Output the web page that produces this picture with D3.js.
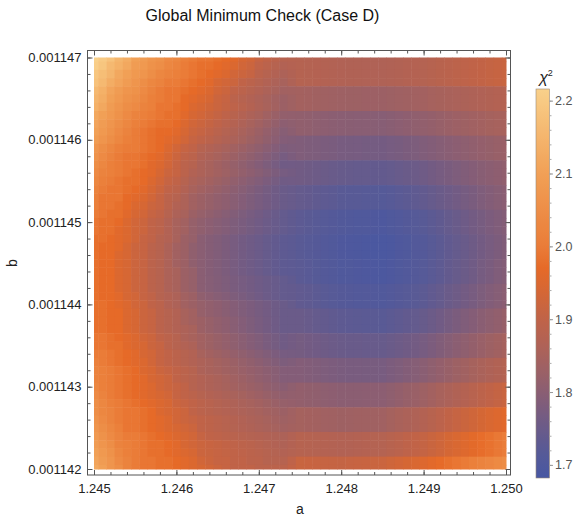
<!DOCTYPE html>
<html>
<head>
<meta charset="utf-8">
<script src="https://cdn.jsdelivr.net/npm/d3@7"></script>
<style>
  body { margin: 0; background: #fff; }
  text { font-family: "Liberation Sans", Arial, sans-serif; }
</style>
</head>
<body>
<div id="container"></div>
<script>
	// grid of a (columns, left to right) and b (rows, top to bottom)
	var aValues = [1.245,1.2451,1.2452,1.2453,1.2454,1.2455,1.2456,1.2457,1.2458,1.2459,
		1.246,1.2461,1.2462,1.2463,1.2464,1.2465,1.2466,1.2467,1.2468,1.2469,
		1.247,1.2471,1.2472,1.2473,1.2474,1.2475,1.2476,1.2477,1.2478,1.2479,
		1.248,1.2481,1.2482,1.2483,1.2484,1.2485,1.2486,1.2487,1.2488,1.2489,
		1.249,1.2491,1.2492,1.2493,1.2494,1.2495,1.2496,1.2497,1.2498,1.2499,1.25];
	var bValues = [0.001147,0.0011469,0.0011468,0.0011467,0.0011466,0.0011465,0.0011464,0.0011463,0.0011462,0.0011461,
		0.001146,0.0011459,0.0011458,0.0011457,0.0011456,0.0011455,0.0011454,0.0011453,0.0011452,0.0011451,
		0.001145,0.0011449,0.0011448,0.0011447,0.0011446,0.0011445,0.0011444,0.0011443,0.0011442,0.0011441,
		0.001144,0.0011439,0.0011438,0.0011437,0.0011436,0.0011435,0.0011434,0.0011433,0.0011432,0.0011431,
		0.001143,0.0011429,0.0011428,0.0011427,0.0011426,0.0011425,0.0011424,0.0011423,0.0011422,0.0011421,0.001142];

	// chi^2 values, one row per b value, one column per a value
	var chi2 = [
[2.22,2.20,2.18,2.15,2.13,2.10,2.09,2.07,2.06,2.04,2.03,2.01,2.00,1.99,1.99,1.98,1.97,1.96,1.94,1.93,1.91,1.90,1.89,1.88,1.879,1.878,1.876,1.874,1.872,1.87,1.868,1.867,1.867,1.866,1.866,1.865,1.867,1.869,1.872,1.874,1.876,1.88,1.884,1.888,1.892,1.895,1.90,1.904,1.907,1.911,1.915],
[2.21,2.19,2.16,2.14,2.12,2.09,2.08,2.06,2.05,2.03,2.02,2.00,1.99,1.98,1.98,1.97,1.96,1.95,1.93,1.92,1.90,1.89,1.88,1.87,1.874,1.878,1.876,1.874,1.872,1.87,1.868,1.867,1.867,1.866,1.866,1.865,1.867,1.869,1.872,1.874,1.876,1.88,1.884,1.888,1.892,1.895,1.90,1.904,1.907,1.911,1.915],
[2.19,2.17,2.15,2.12,2.10,2.08,2.07,2.05,2.03,2.02,2.01,2.00,1.99,1.98,1.97,1.96,1.95,1.93,1.92,1.91,1.89,1.88,1.87,1.86,1.869,1.878,1.876,1.874,1.872,1.87,1.868,1.867,1.867,1.866,1.866,1.865,1.867,1.869,1.872,1.874,1.876,1.88,1.884,1.888,1.892,1.895,1.90,1.904,1.907,1.911,1.915],
[2.18,2.16,2.13,2.11,2.09,2.07,2.05,2.03,2.02,2.00,2.00,1.99,1.98,1.97,1.96,1.94,1.93,1.92,1.90,1.89,1.88,1.87,1.86,1.85,1.864,1.878,1.876,1.874,1.872,1.87,1.868,1.867,1.867,1.866,1.866,1.865,1.867,1.869,1.872,1.874,1.876,1.88,1.884,1.888,1.892,1.895,1.90,1.904,1.907,1.911,1.915],
[2.16,2.14,2.11,2.09,2.07,2.06,2.04,2.02,2.00,1.99,1.99,1.98,1.97,1.96,1.95,1.93,1.92,1.90,1.89,1.88,1.87,1.86,1.85,1.84,1.842,1.843,1.841,1.839,1.837,1.835,1.833,1.832,1.832,1.831,1.831,1.83,1.832,1.835,1.837,1.84,1.842,1.846,1.849,1.853,1.856,1.859,1.863,1.866,1.869,1.872,1.875],
[2.15,2.13,2.10,2.08,2.06,2.05,2.03,2.01,2.00,1.99,1.99,1.97,1.96,1.95,1.94,1.92,1.91,1.89,1.88,1.87,1.86,1.85,1.84,1.83,1.837,1.843,1.841,1.839,1.837,1.835,1.833,1.832,1.832,1.831,1.831,1.83,1.832,1.835,1.837,1.84,1.842,1.846,1.849,1.853,1.856,1.859,1.863,1.866,1.869,1.872,1.875],
[2.14,2.12,2.09,2.07,2.05,2.04,2.02,2.01,1.99,1.99,1.98,1.97,1.95,1.94,1.929,1.918,1.907,1.896,1.885,1.874,1.863,1.852,1.841,1.83,1.837,1.843,1.841,1.839,1.837,1.835,1.833,1.832,1.832,1.831,1.831,1.83,1.832,1.835,1.837,1.84,1.842,1.846,1.849,1.853,1.856,1.859,1.863,1.866,1.869,1.872,1.875],
[2.12,2.10,2.08,2.06,2.04,2.02,2.01,2.00,1.99,1.98,1.98,1.96,1.94,1.93,1.919,1.907,1.896,1.884,1.873,1.861,1.85,1.838,1.827,1.815,1.814,1.812,1.81,1.807,1.805,1.802,1.8,1.799,1.798,1.798,1.797,1.796,1.799,1.803,1.806,1.81,1.813,1.817,1.822,1.826,1.831,1.834,1.838,1.842,1.845,1.848,1.851],
[2.11,2.09,2.07,2.05,2.03,2.01,2.00,1.99,1.98,1.98,1.97,1.95,1.93,1.92,1.909,1.897,1.886,1.874,1.863,1.851,1.84,1.828,1.817,1.805,1.809,1.812,1.81,1.807,1.805,1.802,1.8,1.799,1.798,1.798,1.797,1.796,1.799,1.803,1.806,1.81,1.813,1.817,1.822,1.826,1.831,1.834,1.838,1.842,1.845,1.848,1.851],
[2.10,2.08,2.06,2.04,2.02,2.00,1.99,1.98,1.97,1.97,1.96,1.94,1.92,1.91,1.899,1.887,1.876,1.864,1.853,1.841,1.83,1.818,1.807,1.795,1.804,1.812,1.81,1.807,1.805,1.802,1.8,1.799,1.798,1.798,1.797,1.796,1.799,1.803,1.806,1.81,1.813,1.817,1.822,1.826,1.831,1.834,1.838,1.842,1.845,1.848,1.851],
[2.09,2.07,2.05,2.03,2.01,2.00,1.99,1.98,1.97,1.96,1.95,1.93,1.91,1.90,1.889,1.878,1.867,1.856,1.845,1.834,1.823,1.812,1.801,1.79,1.788,1.785,1.782,1.78,1.777,1.775,1.772,1.771,1.77,1.768,1.767,1.766,1.77,1.773,1.777,1.78,1.784,1.789,1.794,1.798,1.803,1.807,1.811,1.816,1.819,1.823,1.826],
[2.07,2.05,2.03,2.01,2.00,2.00,1.99,1.98,1.97,1.95,1.93,1.91,1.90,1.88,1.87,1.86,1.85,1.84,1.83,1.82,1.81,1.80,1.79,1.78,1.783,1.785,1.782,1.78,1.777,1.775,1.772,1.771,1.77,1.768,1.767,1.766,1.77,1.773,1.777,1.78,1.784,1.789,1.794,1.798,1.803,1.807,1.811,1.816,1.819,1.823,1.826],
[2.06,2.04,2.02,2.00,1.99,1.99,1.98,1.97,1.96,1.94,1.92,1.90,1.89,1.87,1.86,1.85,1.84,1.83,1.82,1.81,1.80,1.79,1.78,1.77,1.778,1.785,1.782,1.78,1.777,1.775,1.772,1.771,1.77,1.768,1.767,1.766,1.77,1.773,1.777,1.78,1.784,1.789,1.794,1.798,1.803,1.807,1.811,1.816,1.819,1.823,1.826],
[2.05,2.03,2.01,2.00,1.99,1.99,1.98,1.96,1.95,1.93,1.91,1.89,1.88,1.86,1.85,1.84,1.83,1.82,1.81,1.80,1.79,1.78,1.77,1.76,1.761,1.762,1.759,1.755,1.752,1.748,1.745,1.744,1.742,1.741,1.739,1.738,1.742,1.746,1.75,1.754,1.758,1.764,1.77,1.775,1.781,1.786,1.792,1.797,1.802,1.806,1.811],
[2.04,2.02,2.01,2.00,1.99,1.98,1.97,1.96,1.94,1.92,1.91,1.89,1.87,1.86,1.851,1.842,1.833,1.824,1.815,1.806,1.797,1.788,1.779,1.77,1.766,1.762,1.759,1.755,1.752,1.748,1.745,1.744,1.742,1.741,1.739,1.738,1.742,1.746,1.75,1.754,1.758,1.764,1.77,1.775,1.781,1.786,1.792,1.797,1.802,1.806,1.811],
[2.03,2.01,2.00,1.99,1.98,1.98,1.97,1.95,1.93,1.91,1.90,1.88,1.86,1.85,1.841,1.832,1.823,1.814,1.805,1.796,1.787,1.778,1.769,1.76,1.761,1.762,1.759,1.755,1.752,1.748,1.745,1.744,1.742,1.741,1.739,1.738,1.742,1.746,1.75,1.754,1.758,1.764,1.77,1.775,1.781,1.786,1.792,1.797,1.802,1.806,1.811],
[2.02,2.00,1.99,1.99,1.98,1.97,1.96,1.94,1.92,1.90,1.89,1.87,1.85,1.84,1.831,1.822,1.813,1.804,1.795,1.786,1.777,1.768,1.759,1.75,1.746,1.742,1.738,1.734,1.73,1.726,1.722,1.72,1.719,1.717,1.716,1.714,1.718,1.723,1.727,1.732,1.736,1.743,1.75,1.756,1.763,1.769,1.776,1.783,1.789,1.795,1.801],
[2.01,1.99,1.99,1.99,1.97,1.96,1.95,1.93,1.91,1.89,1.88,1.86,1.84,1.83,1.822,1.814,1.806,1.798,1.79,1.782,1.774,1.766,1.758,1.75,1.746,1.742,1.738,1.734,1.73,1.726,1.722,1.72,1.719,1.717,1.716,1.714,1.718,1.723,1.727,1.732,1.736,1.743,1.75,1.756,1.763,1.769,1.776,1.783,1.789,1.795,1.801],
[2.01,1.99,1.99,1.98,1.97,1.95,1.94,1.92,1.91,1.89,1.87,1.86,1.84,1.83,1.822,1.814,1.806,1.798,1.79,1.782,1.774,1.766,1.758,1.75,1.746,1.742,1.738,1.734,1.73,1.726,1.722,1.72,1.719,1.717,1.716,1.714,1.718,1.723,1.727,1.732,1.736,1.743,1.75,1.756,1.763,1.769,1.776,1.783,1.789,1.795,1.801],
[2.00,1.99,1.98,1.98,1.96,1.94,1.93,1.91,1.90,1.88,1.86,1.85,1.83,1.82,1.812,1.804,1.796,1.788,1.78,1.772,1.764,1.756,1.748,1.74,1.734,1.728,1.724,1.72,1.715,1.711,1.707,1.705,1.703,1.701,1.699,1.697,1.701,1.706,1.71,1.715,1.719,1.727,1.734,1.742,1.749,1.756,1.764,1.771,1.778,1.784,1.791],
[1.99,1.98,1.98,1.97,1.95,1.93,1.92,1.90,1.89,1.87,1.85,1.84,1.82,1.81,1.803,1.796,1.789,1.782,1.775,1.768,1.761,1.754,1.747,1.74,1.734,1.728,1.724,1.72,1.715,1.711,1.707,1.705,1.703,1.701,1.699,1.697,1.701,1.706,1.71,1.715,1.719,1.727,1.734,1.742,1.749,1.756,1.764,1.771,1.778,1.784,1.791],
[1.99,1.98,1.98,1.96,1.95,1.93,1.92,1.90,1.89,1.87,1.85,1.84,1.82,1.81,1.803,1.796,1.789,1.782,1.775,1.768,1.761,1.754,1.747,1.74,1.734,1.728,1.724,1.72,1.715,1.711,1.707,1.705,1.703,1.701,1.699,1.697,1.701,1.706,1.71,1.715,1.719,1.727,1.734,1.742,1.749,1.756,1.764,1.771,1.778,1.784,1.791],
[1.98,1.98,1.97,1.96,1.95,1.93,1.91,1.90,1.88,1.87,1.85,1.83,1.82,1.80,1.793,1.786,1.779,1.772,1.765,1.758,1.751,1.744,1.737,1.73,1.726,1.722,1.718,1.713,1.709,1.704,1.7,1.698,1.696,1.694,1.692,1.69,1.694,1.699,1.703,1.708,1.712,1.72,1.727,1.735,1.742,1.749,1.757,1.765,1.772,1.779,1.786],
[1.98,1.97,1.97,1.96,1.94,1.92,1.91,1.89,1.88,1.86,1.84,1.83,1.81,1.80,1.793,1.786,1.779,1.772,1.765,1.758,1.751,1.744,1.737,1.73,1.726,1.722,1.718,1.713,1.709,1.704,1.7,1.698,1.696,1.694,1.692,1.69,1.694,1.699,1.703,1.708,1.712,1.72,1.727,1.735,1.742,1.749,1.757,1.765,1.772,1.779,1.786],
[1.98,1.97,1.97,1.95,1.94,1.92,1.91,1.89,1.88,1.86,1.84,1.83,1.81,1.80,1.793,1.786,1.779,1.772,1.765,1.758,1.751,1.744,1.737,1.73,1.726,1.722,1.718,1.713,1.709,1.704,1.7,1.698,1.696,1.694,1.692,1.69,1.694,1.699,1.703,1.708,1.712,1.72,1.727,1.735,1.742,1.749,1.757,1.765,1.772,1.779,1.786],
[1.98,1.97,1.97,1.95,1.94,1.92,1.91,1.89,1.88,1.86,1.84,1.83,1.81,1.80,1.793,1.786,1.779,1.772,1.765,1.758,1.751,1.744,1.737,1.73,1.728,1.725,1.721,1.716,1.712,1.707,1.703,1.701,1.699,1.697,1.695,1.693,1.697,1.702,1.706,1.711,1.715,1.723,1.73,1.738,1.745,1.752,1.76,1.769,1.776,1.784,1.791],
[1.98,1.97,1.97,1.95,1.94,1.92,1.91,1.89,1.88,1.86,1.85,1.83,1.82,1.80,1.793,1.786,1.779,1.772,1.765,1.758,1.751,1.744,1.737,1.73,1.728,1.725,1.721,1.716,1.712,1.707,1.703,1.701,1.699,1.697,1.695,1.693,1.697,1.702,1.706,1.711,1.715,1.723,1.73,1.738,1.745,1.752,1.76,1.769,1.776,1.784,1.791],
[1.98,1.97,1.97,1.95,1.94,1.92,1.91,1.89,1.88,1.86,1.85,1.83,1.82,1.80,1.794,1.788,1.782,1.776,1.77,1.764,1.758,1.752,1.746,1.74,1.733,1.725,1.721,1.716,1.712,1.707,1.703,1.701,1.699,1.697,1.695,1.693,1.697,1.702,1.706,1.711,1.715,1.723,1.73,1.738,1.745,1.752,1.76,1.769,1.776,1.784,1.791],
[1.98,1.97,1.97,1.95,1.94,1.92,1.91,1.89,1.88,1.86,1.85,1.83,1.82,1.80,1.794,1.788,1.782,1.776,1.77,1.764,1.758,1.752,1.746,1.74,1.738,1.735,1.731,1.726,1.722,1.717,1.713,1.711,1.709,1.708,1.706,1.704,1.709,1.713,1.718,1.722,1.727,1.735,1.742,1.75,1.757,1.764,1.772,1.78,1.787,1.794,1.801],
[1.98,1.97,1.97,1.96,1.94,1.93,1.91,1.90,1.88,1.87,1.86,1.84,1.83,1.81,1.803,1.796,1.789,1.782,1.775,1.768,1.761,1.754,1.747,1.74,1.738,1.735,1.731,1.726,1.722,1.717,1.713,1.711,1.709,1.708,1.706,1.704,1.709,1.713,1.718,1.722,1.727,1.735,1.742,1.75,1.757,1.764,1.772,1.78,1.787,1.794,1.801],
[1.98,1.98,1.97,1.96,1.95,1.93,1.92,1.90,1.89,1.87,1.86,1.84,1.83,1.82,1.813,1.806,1.799,1.792,1.785,1.778,1.771,1.764,1.757,1.75,1.743,1.735,1.731,1.726,1.722,1.717,1.713,1.711,1.709,1.708,1.706,1.704,1.709,1.713,1.718,1.722,1.727,1.735,1.742,1.75,1.757,1.764,1.772,1.78,1.787,1.794,1.801],
[1.98,1.98,1.97,1.97,1.95,1.94,1.92,1.91,1.89,1.88,1.87,1.85,1.84,1.82,1.813,1.806,1.799,1.792,1.785,1.778,1.771,1.764,1.757,1.75,1.75,1.75,1.746,1.742,1.738,1.734,1.73,1.728,1.727,1.725,1.724,1.722,1.727,1.731,1.736,1.74,1.745,1.753,1.761,1.769,1.777,1.784,1.792,1.80,1.807,1.814,1.821],
[1.98,1.98,1.97,1.97,1.95,1.94,1.92,1.91,1.89,1.88,1.87,1.85,1.84,1.83,1.822,1.814,1.806,1.798,1.79,1.782,1.774,1.766,1.758,1.75,1.75,1.75,1.746,1.742,1.738,1.734,1.73,1.728,1.727,1.725,1.724,1.722,1.727,1.731,1.736,1.74,1.745,1.753,1.761,1.769,1.777,1.784,1.792,1.80,1.807,1.814,1.821],
[1.98,1.98,1.97,1.97,1.95,1.94,1.92,1.91,1.89,1.88,1.87,1.86,1.85,1.83,1.822,1.814,1.806,1.798,1.79,1.782,1.774,1.766,1.758,1.75,1.75,1.75,1.746,1.742,1.738,1.734,1.73,1.728,1.727,1.725,1.724,1.722,1.727,1.731,1.736,1.74,1.745,1.753,1.761,1.769,1.777,1.784,1.792,1.80,1.807,1.814,1.821],
[1.99,1.99,1.98,1.97,1.96,1.95,1.93,1.92,1.90,1.89,1.88,1.86,1.85,1.84,1.832,1.824,1.816,1.808,1.80,1.792,1.784,1.776,1.768,1.76,1.764,1.768,1.764,1.761,1.757,1.754,1.75,1.749,1.748,1.747,1.746,1.745,1.75,1.755,1.76,1.765,1.77,1.778,1.786,1.794,1.802,1.809,1.817,1.825,1.832,1.839,1.846],
[1.99,1.99,1.98,1.98,1.96,1.95,1.94,1.92,1.91,1.89,1.88,1.87,1.86,1.84,1.832,1.824,1.816,1.808,1.80,1.792,1.784,1.776,1.768,1.76,1.764,1.768,1.764,1.761,1.757,1.754,1.75,1.749,1.748,1.747,1.746,1.745,1.75,1.755,1.76,1.765,1.77,1.778,1.786,1.794,1.802,1.809,1.817,1.825,1.832,1.839,1.846],
[2.00,2.00,1.99,1.98,1.97,1.96,1.94,1.93,1.91,1.90,1.89,1.88,1.87,1.85,1.842,1.834,1.826,1.818,1.81,1.802,1.794,1.786,1.778,1.77,1.769,1.768,1.764,1.761,1.757,1.754,1.75,1.749,1.748,1.747,1.746,1.745,1.75,1.755,1.76,1.765,1.77,1.778,1.786,1.794,1.802,1.809,1.817,1.825,1.832,1.839,1.846],
[2.01,2.00,1.99,1.98,1.97,1.96,1.95,1.93,1.91,1.90,1.89,1.88,1.87,1.86,1.852,1.844,1.836,1.828,1.82,1.812,1.804,1.796,1.788,1.78,1.785,1.79,1.787,1.784,1.781,1.778,1.775,1.774,1.774,1.773,1.773,1.772,1.778,1.783,1.789,1.794,1.80,1.808,1.816,1.824,1.832,1.839,1.847,1.855,1.862,1.869,1.876],
[2.02,2.01,2.00,1.99,1.98,1.97,1.95,1.94,1.92,1.91,1.90,1.89,1.88,1.86,1.853,1.846,1.839,1.832,1.825,1.818,1.811,1.804,1.797,1.79,1.79,1.79,1.787,1.784,1.781,1.778,1.775,1.774,1.774,1.773,1.773,1.772,1.778,1.783,1.789,1.794,1.80,1.808,1.816,1.824,1.832,1.839,1.847,1.855,1.862,1.869,1.876],
[2.02,2.01,2.00,1.99,1.98,1.97,1.96,1.94,1.93,1.92,1.90,1.89,1.88,1.87,1.862,1.854,1.846,1.838,1.83,1.822,1.814,1.806,1.798,1.79,1.79,1.79,1.787,1.784,1.781,1.778,1.775,1.774,1.774,1.773,1.773,1.772,1.778,1.783,1.789,1.794,1.80,1.808,1.816,1.824,1.832,1.839,1.847,1.855,1.862,1.869,1.876],
[2.03,2.01,2.00,1.99,1.98,1.97,1.96,1.95,1.93,1.92,1.91,1.90,1.88,1.87,1.863,1.856,1.849,1.842,1.835,1.828,1.821,1.814,1.807,1.80,1.808,1.815,1.812,1.81,1.807,1.805,1.802,1.802,1.802,1.803,1.803,1.803,1.809,1.815,1.821,1.827,1.833,1.841,1.85,1.858,1.867,1.874,1.883,1.892,1.90,1.908,1.916],
[2.04,2.02,2.00,1.99,1.98,1.97,1.96,1.95,1.94,1.93,1.91,1.90,1.89,1.88,1.873,1.866,1.859,1.852,1.845,1.838,1.831,1.824,1.817,1.81,1.813,1.815,1.812,1.81,1.807,1.805,1.802,1.802,1.802,1.803,1.803,1.803,1.809,1.815,1.821,1.827,1.833,1.841,1.85,1.858,1.867,1.874,1.883,1.892,1.90,1.908,1.916],
[2.05,2.03,2.01,2.00,1.99,1.98,1.97,1.96,1.95,1.94,1.92,1.91,1.90,1.89,1.883,1.876,1.869,1.862,1.855,1.848,1.841,1.834,1.827,1.82,1.818,1.815,1.812,1.81,1.807,1.805,1.802,1.802,1.802,1.803,1.803,1.803,1.809,1.815,1.821,1.827,1.833,1.841,1.85,1.858,1.867,1.874,1.883,1.892,1.90,1.908,1.916],
[2.05,2.03,2.02,2.00,1.99,1.99,1.98,1.97,1.95,1.94,1.93,1.92,1.90,1.89,1.884,1.878,1.872,1.866,1.86,1.854,1.848,1.842,1.836,1.83,1.838,1.845,1.843,1.841,1.838,1.836,1.834,1.835,1.836,1.836,1.837,1.838,1.845,1.852,1.858,1.865,1.872,1.882,1.891,1.901,1.91,1.919,1.928,1.937,1.945,1.953,1.961],
[2.06,2.04,2.02,2.00,1.99,1.99,1.98,1.97,1.96,1.95,1.93,1.92,1.91,1.90,1.894,1.887,1.881,1.874,1.868,1.861,1.855,1.848,1.842,1.835,1.84,1.845,1.843,1.841,1.838,1.836,1.834,1.835,1.836,1.836,1.837,1.838,1.845,1.852,1.858,1.865,1.872,1.882,1.891,1.901,1.91,1.919,1.928,1.937,1.945,1.953,1.961],
[2.07,2.05,2.03,2.01,1.99,1.99,1.98,1.97,1.96,1.95,1.94,1.93,1.92,1.90,1.894,1.888,1.882,1.876,1.87,1.864,1.858,1.852,1.846,1.84,1.843,1.845,1.843,1.841,1.838,1.836,1.834,1.835,1.836,1.836,1.837,1.838,1.845,1.852,1.858,1.865,1.872,1.882,1.891,1.901,1.91,1.919,1.928,1.937,1.945,1.953,1.961],
[2.08,2.06,2.04,2.02,2.00,2.00,1.99,1.98,1.97,1.96,1.95,1.94,1.93,1.91,1.90,1.895,1.89,1.885,1.88,1.876,1.872,1.868,1.864,1.86,1.87,1.88,1.878,1.876,1.874,1.872,1.87,1.871,1.872,1.874,1.875,1.876,1.882,1.888,1.895,1.901,1.907,1.917,1.926,1.937,1.946,1.955,1.965,1.975,1.984,1.994,2.003],
[2.09,2.07,2.05,2.02,2.01,2.00,1.99,1.98,1.98,1.97,1.96,1.94,1.93,1.92,1.914,1.909,1.903,1.898,1.892,1.887,1.881,1.876,1.87,1.865,1.873,1.88,1.878,1.876,1.874,1.872,1.87,1.871,1.872,1.874,1.875,1.876,1.882,1.888,1.895,1.901,1.907,1.917,1.926,1.937,1.946,1.955,1.965,1.975,1.984,1.994,2.003],
[2.10,2.08,2.06,2.03,2.01,2.00,1.99,1.98,1.98,1.97,1.96,1.95,1.94,1.92,1.915,1.91,1.905,1.90,1.895,1.89,1.885,1.88,1.875,1.87,1.875,1.88,1.878,1.876,1.874,1.872,1.87,1.871,1.872,1.874,1.875,1.876,1.882,1.888,1.895,1.901,1.907,1.917,1.926,1.937,1.946,1.955,1.965,1.975,1.984,1.994,2.003],
[2.11,2.09,2.07,2.04,2.02,2.00,1.99,1.99,1.98,1.98,1.97,1.96,1.95,1.93,1.92,1.91,1.91,1.90,1.90,1.89,1.89,1.88,1.88,1.88,1.898,1.915,1.914,1.912,1.911,1.909,1.908,1.91,1.912,1.914,1.916,1.918,1.925,1.932,1.939,1.946,1.953,1.963,1.972,1.981,1.99,1.999,2.01,2.019,2.029,2.038,2.048],
[2.12,2.10,2.07,2.05,2.02,2.00,1.99,1.99,1.98,1.98,1.97,1.96,1.95,1.94,1.93,1.92,1.91,1.90,1.90,1.90,1.89,1.89,1.89,1.89,1.903,1.915,1.914,1.912,1.911,1.909,1.908,1.91,1.912,1.914,1.916,1.918,1.925,1.932,1.939,1.946,1.953,1.963,1.972,1.981,1.99,1.999,2.01,2.019,2.029,2.038,2.048]
	];

	var xTicks = [1.245, 1.246, 1.247, 1.248, 1.249, 1.250];
	var yTicks = [0.001142, 0.001143, 0.001144, 0.001145, 0.001146, 0.001147];
	var legendTicks = [1.7, 1.8, 1.9, 2.0, 2.1, 2.2];

	var colorDomain = [1.682, 1.72, 1.76, 1.80, 1.85, 1.90, 1.94, 1.97, 2.00, 2.10, 2.216];
	var colorRange = ["#4757a3", "#585a96", "#705b85", "#8a5e73", "#a8625c", "#c06348",
		"#d66734", "#e66a28", "#ea7c38", "#f1a056", "#f9d18b"];

	var width = 577, height = 517;
	var da = 0.0001, db = 0.0000001;

	var svg = d3.select('#container')
		.append('svg')
		.attr('width', width)
		.attr('height', height);

	var x = d3.scaleLinear().domain([1.245, 1.250]).range([94, 506]);
	var y = d3.scaleLinear().domain([0.001142, 0.001147]).range([469, 57.5]);
	var color = d3.scaleLinear().domain(colorDomain).range(colorRange).clamp(true);

	var cells = [];
	chi2.forEach(function(row, j) {
		row.forEach(function(v, i) {
			cells.push({a: aValues[i], b: bValues[j], v: v});
		});
	});

	svg.append('g')
		.selectAll('rect')
		.data(cells)
		.enter().append('rect')
		.attr('x', function(d) { return x(Math.max(d.a - da / 2, 1.245)); })
		.attr('y', function(d) { return y(Math.min(d.b + db / 2, 0.001147)); })
		.attr('width', function(d) {
			return x(Math.min(d.a + da / 2, 1.25)) - x(Math.max(d.a - da / 2, 1.245)) + 0.5;
		})
		.attr('height', function(d) {
			return y(Math.max(d.b - db / 2, 0.001142)) - y(Math.min(d.b + db / 2, 0.001147)) + 0.5;
		})
		.style('fill', function(d) { return color(d.v); });

	// frame with inward ticks on all four sides
	var fL = 87.5, fR = 510.5, fT = 50.5, fB = 475;
	var xMinor = d3.range(0, 26).map(function(k) { return 1.245 + k * 0.0002; });
	var yMinor = d3.range(0, 26).map(function(k) { return 0.001142 + k * 0.0000002; });

	function styleAxis(g) {
		g.select('.domain').remove();
		g.selectAll('line').style('stroke', '#555');
		g.selectAll('text').style('font-size', '13px').style('fill', '#222');
	}

	svg.append('g').attr('transform', 'translate(0,' + fB + ')')
		.call(d3.axisBottom(x).tickValues(xMinor).tickSize(-3).tickFormat(''))
		.call(styleAxis);
	svg.append('g').attr('transform', 'translate(0,' + fB + ')')
		.call(d3.axisBottom(x).tickValues(xTicks).tickSize(-5).tickPadding(9).tickFormat(d3.format('.3f')))
		.call(styleAxis);
	svg.append('g').attr('transform', 'translate(0,' + fT + ')')
		.call(d3.axisTop(x).tickValues(xMinor).tickSize(-3).tickFormat(''))
		.call(styleAxis);
	svg.append('g').attr('transform', 'translate(0,' + fT + ')')
		.call(d3.axisTop(x).tickValues(xTicks).tickSize(-5).tickFormat(''))
		.call(styleAxis);

	svg.append('g').attr('transform', 'translate(' + fL + ',0)')
		.call(d3.axisLeft(y).tickValues(yMinor).tickSize(-3).tickFormat(''))
		.call(styleAxis);
	svg.append('g').attr('transform', 'translate(' + fL + ',0)')
		.call(d3.axisLeft(y).tickValues(yTicks).tickSize(-5).tickPadding(6).tickFormat(d3.format('.6f')))
		.call(styleAxis);
	svg.append('g').attr('transform', 'translate(' + fR + ',0)')
		.call(d3.axisRight(y).tickValues(yMinor).tickSize(-3).tickFormat(''))
		.call(styleAxis);
	svg.append('g').attr('transform', 'translate(' + fR + ',0)')
		.call(d3.axisRight(y).tickValues(yTicks).tickSize(-5).tickFormat(''))
		.call(styleAxis);

	svg.append('rect')
		.attr('x', fL).attr('y', fT)
		.attr('width', fR - fL).attr('height', fB - fT)
		.style('fill', 'none')
		.style('stroke', '#555')
		.style('stroke-width', 1);

	// titles
	svg.append('text')
		.attr('x', 262.5).attr('y', 21)
		.attr('text-anchor', 'middle')
		.style('font-size', '16px')
		.style('fill', '#111')
		.text('Global Minimum Check (Case D)');

	svg.append('text')
		.attr('x', 300).attr('y', 514)
		.attr('text-anchor', 'middle')
		.style('font-size', '14px')
		.style('fill', '#222')
		.text('a');

	svg.append('text')
		.attr('transform', 'translate(17,263) rotate(-90)')
		.attr('text-anchor', 'middle')
		.style('font-size', '14px')
		.style('fill', '#222')
		.text('b');

	// colour bar legend
	var barX = 536, barW = 13.5, barTop = 89, barBottom = 478;
	var ly = d3.scaleLinear().domain([1.682, 2.216]).range([barBottom, barTop]);

	var grad = svg.append('defs').append('linearGradient')
		.attr('id', 'chi2grad')
		.attr('x1', 0).attr('y1', 1).attr('x2', 0).attr('y2', 0);
	grad.selectAll('stop')
		.data(d3.range(0, 51))
		.enter().append('stop')
		.attr('offset', function(k) { return (k / 50 * 100) + '%'; })
		.attr('stop-color', function(k) { return color(1.682 + (2.216 - 1.682) * k / 50); });

	svg.append('rect')
		.attr('x', barX).attr('y', barTop)
		.attr('width', barW).attr('height', barBottom - barTop)
		.style('fill', 'url(#chi2grad)')
		.style('stroke', '#9a8a7a')
		.style('stroke-width', 0.6);

	var legendMinor = d3.range(0, 27).map(function(k) { return 1.70 + k * 0.02; })
		.filter(function(v) { return v <= 2.216; });

	svg.append('g').attr('transform', 'translate(' + (barX + barW) + ',0)')
		.call(d3.axisRight(ly).tickValues(legendMinor).tickSize(2).tickFormat(''))
		.call(function(g) {
			g.select('.domain').remove();
			g.selectAll('line').style('stroke', '#aaa');
		});
	svg.append('g').attr('transform', 'translate(' + (barX + barW) + ',0)')
		.call(d3.axisRight(ly).tickValues(legendTicks).tickSize(3.5).tickPadding(2).tickFormat(d3.format('.1f')))
		.call(function(g) {
			g.select('.domain').remove();
			g.selectAll('line').style('stroke', '#999');
			g.selectAll('text').style('font-size', '12.5px').style('fill', '#555');
		});

	var chiLabel = svg.append('text')
		.attr('x', 546).attr('y', 83)
		.attr('text-anchor', 'middle')
		.style('font-size', '16px')
		.style('fill', '#222');
	chiLabel.append('tspan').style('font-style', 'italic').text('χ');
	chiLabel.append('tspan').attr('dy', -7).style('font-size', '9px').text('2');
</script>
</body>
</html>
